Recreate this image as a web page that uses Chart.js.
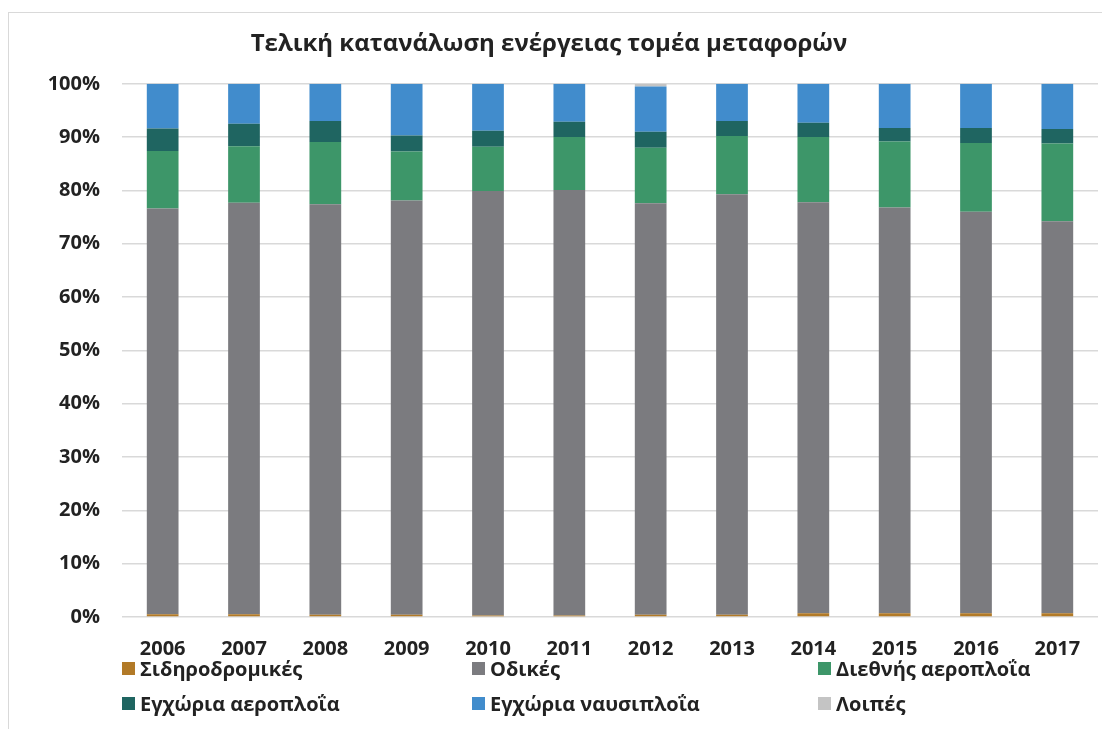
<!DOCTYPE html>
<html lang="el">
<head>
    <meta charset="UTF-8">
    <style>
        body { margin: 0; background: #fff; font-family: "Open Sans", sans-serif; }
        #wrap { position: relative; width: 1102px; height: 729px; overflow: hidden; }
        #frame { position: absolute; left: 8px; top: 12px; width: 1200px; height: 800px;
                 border-left: 1.5px solid #d9d9d9; border-top: 1.5px solid #d9d9d9; }
        #energyChart { position: absolute; left: 0; top: 0; }
        #legend { position: absolute; left: 122px; top: 655px; width: 980px;
                  display: grid; grid-template-columns: 350px 346px 280px; row-gap: 9px; }
        .item { display: flex; align-items: center; font-size: 20px; font-weight: bold; color: #222; height: 26px; }
        .box { width: 13px; height: 13px; margin-right: 5px; flex: none; }
    </style>
</head>
<body>
<div id="wrap">
    <div id="frame"></div>
    <canvas id="energyChart" width="1102" height="729"></canvas>
    <div id="legend"></div>
</div>

<script src="https://cdn.jsdelivr.net/npm/chart.js"></script>
<script>
    const years = ["2006", "2007", "2008", "2009", "2010", "2011", "2012", "2013", "2014", "2015", "2016", "2017"];

    // shares in % of total transport energy use
    const rail     = [0.5, 0.5, 0.4, 0.4, 0.3, 0.3, 0.4, 0.4, 0.7, 0.7, 0.7, 0.7];
    const road     = [76.1, 77.2, 77.0, 77.7, 79.6, 79.8, 77.2, 78.9, 77.1, 76.1, 75.3, 73.5];
    const intlAir  = [10.8, 10.6, 11.7, 9.2, 8.3, 9.9, 10.4, 10.9, 12.2, 12.4, 12.9, 14.6];
    const domAir   = [4.2, 4.2, 3.9, 3.0, 3.0, 2.9, 3.0, 2.8, 2.7, 2.5, 2.8, 2.7];
    const shipping = [8.4, 7.5, 7.0, 9.7, 8.8, 7.1, 8.5, 7.0, 7.3, 8.3, 8.3, 8.5];
    const other    = [0, 0, 0, 0, 0, 0, 0.5, 0, 0, 0, 0, 0];

    const seriesNames = ["Σιδηροδρομικές", "Οδικές", "Διεθνής αεροπλοΐα", "Εγχώρια αεροπλοΐα", "Εγχώρια ναυσιπλοΐα", "Λοιπές"];
    const seriesColors = ["#b27a27", "#7b7b7f", "#3d9669", "#1f6561", "#418ccc", "#c4c4c4"];
    const seriesData = [rail, road, intlAir, domAir, shipping, other];

    const yTicks = [0, 10, 20, 30, 40, 50, 60, 70, 80, 90, 100];

    const datasets = seriesNames.map((name, i) => ({
        label: name,
        data: seriesData[i],
        backgroundColor: seriesColors[i],
        borderWidth: 0,
        categoryPercentage: 1.0,
        barPercentage: 0.39
    }));

    const config = {
        type: "bar",
        data: { labels: years, datasets: datasets },
        options: {
            responsive: false,
            animation: false,
            layout: { padding: { left: 0, right: 4, top: 0, bottom: 48 } },
            plugins: {
                legend: { display: false },
                tooltip: { enabled: false },
                title: {
                    display: true,
                    text: "Τελική κατανάλωση ενέργειας τομέα μεταφορών",
                    color: "#222",
                    font: { family: "Open Sans", size: 24, weight: "bold" },
                    padding: { top: 30, bottom: 25 }
                }
            },
            scales: {
                x: {
                    stacked: true,
                    grid: { display: false, drawTicks: false },
                    border: { display: false },
                    ticks: {
                        padding: 20,
                        color: "#222",
                        font: { family: "Open Sans", size: 20, weight: "bold" }
                    }
                },
                y: {
                    stacked: true,
                    min: 0,
                    max: 100,
                    afterFit: (scale) => { scale.width = 122; },
                    afterBuildTicks: (scale) => { scale.ticks = yTicks.map(v => ({ value: v })); },
                    grid: { color: "#d9d9d9", lineWidth: 1.5, drawTicks: false },
                    border: { display: false },
                    ticks: {
                        padding: 22,
                        color: "#222",
                        font: { family: "Open Sans", size: 20, weight: "bold" },
                        callback: (v) => v + "%"
                    }
                }
            }
        }
    };

    const ctx = document.getElementById("energyChart").getContext("2d");
    new Chart(ctx, config);

    const legendDiv = document.getElementById("legend");
    // Excel-style order: filled row by row
    seriesNames.forEach((name, i) => {
        const item = document.createElement("div");
        item.className = "item";
        item.innerHTML = '<span class="box" style="background:' + seriesColors[i] + '"></span>' + name;
        legendDiv.appendChild(item);
    });
</script>
</body>
</html>
